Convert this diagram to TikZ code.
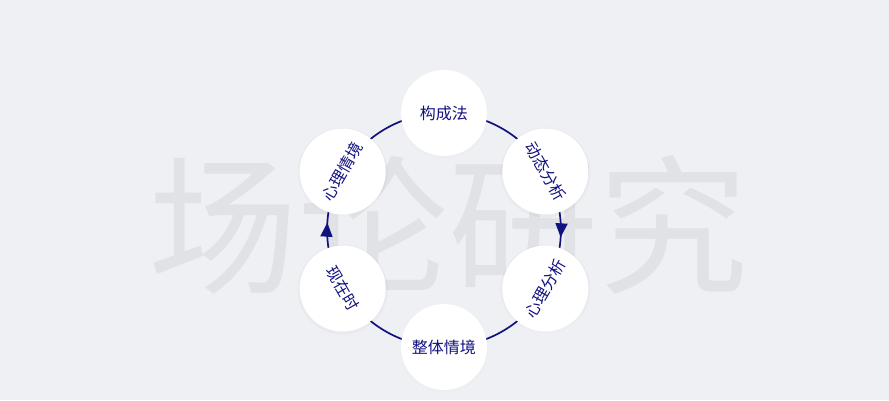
\documentclass[tikz,border=0pt]{standalone}
\usepackage{fontspec}
\newfontfamily\cjk{Noto Sans CJK SC}
\usetikzlibrary{arrows.meta, positioning, shadows, decorations.markings}

\definecolor{pagebg}{HTML}{EEF0F4}
\definecolor{ringblue}{HTML}{12127F}
\definecolor{markgray}{HTML}{E1E2E6}
\pgfdeclarelayer{back}
\pgfdeclarelayer{ring}
\pgfsetlayers{back,ring,main}

\begin{document}
\begin{tikzpicture}[
    font=\cjk,
    stage/.style={circle, fill=white, minimum size=86pt, inner sep=0pt, text=ringblue,
        font=\cjk\fontsize{16}{16}\selectfont,
        circular drop shadow={shadow xshift=0pt, shadow yshift=-1pt, shadow scale=1.05, fill=black, opacity=0.025}},
    link/.style={draw=ringblue, line width=1.7pt, bend left=30, looseness=0.91},
    flow/.style={postaction=decorate, decoration={markings,
        mark=at position 0.56 with {\arrow{Triangle[length=14pt, width=12pt]}}}}
]
\useasboundingbox (-444pt,-170pt) rectangle (445pt,230pt);

% background and watermark
\begin{pgfonlayer}{back}
\fill[pagebg] (-444pt,-170pt) rectangle (445pt,230pt);
\node[text=markgray, font=\cjk\fontsize{150}{150}\selectfont] (mark) at (5pt,5pt) {场论研究};
\end{pgfonlayer}

\node[stage] (form) at (90:117pt) {构成法};
\node[stage, rotate=-60] (dyn) at (30:117pt) {动态分析};
\node[stage, rotate=60] (psy) at (-30:117pt) {心理分析};
\node[stage] (whole) at (-90:117pt) {整体情境};
\node[stage, rotate=-60] (now) at (210:117pt) {现在时};
\node[stage, rotate=60] (mind) at (150:117pt) {心理情境};

% ring, clockwise
\begin{pgfonlayer}{ring}
\draw[link] (form.center) to (dyn.center);
\draw[link, flow] (dyn.center) to (psy.center);
\draw[link] (psy.center) to (whole.center);
\draw[link] (whole.center) to (now.center);
\draw[link, flow] (now.center) to (mind.center);
\draw[link] (mind.center) to (form.center);
\end{pgfonlayer}

\end{tikzpicture}
\end{document}
